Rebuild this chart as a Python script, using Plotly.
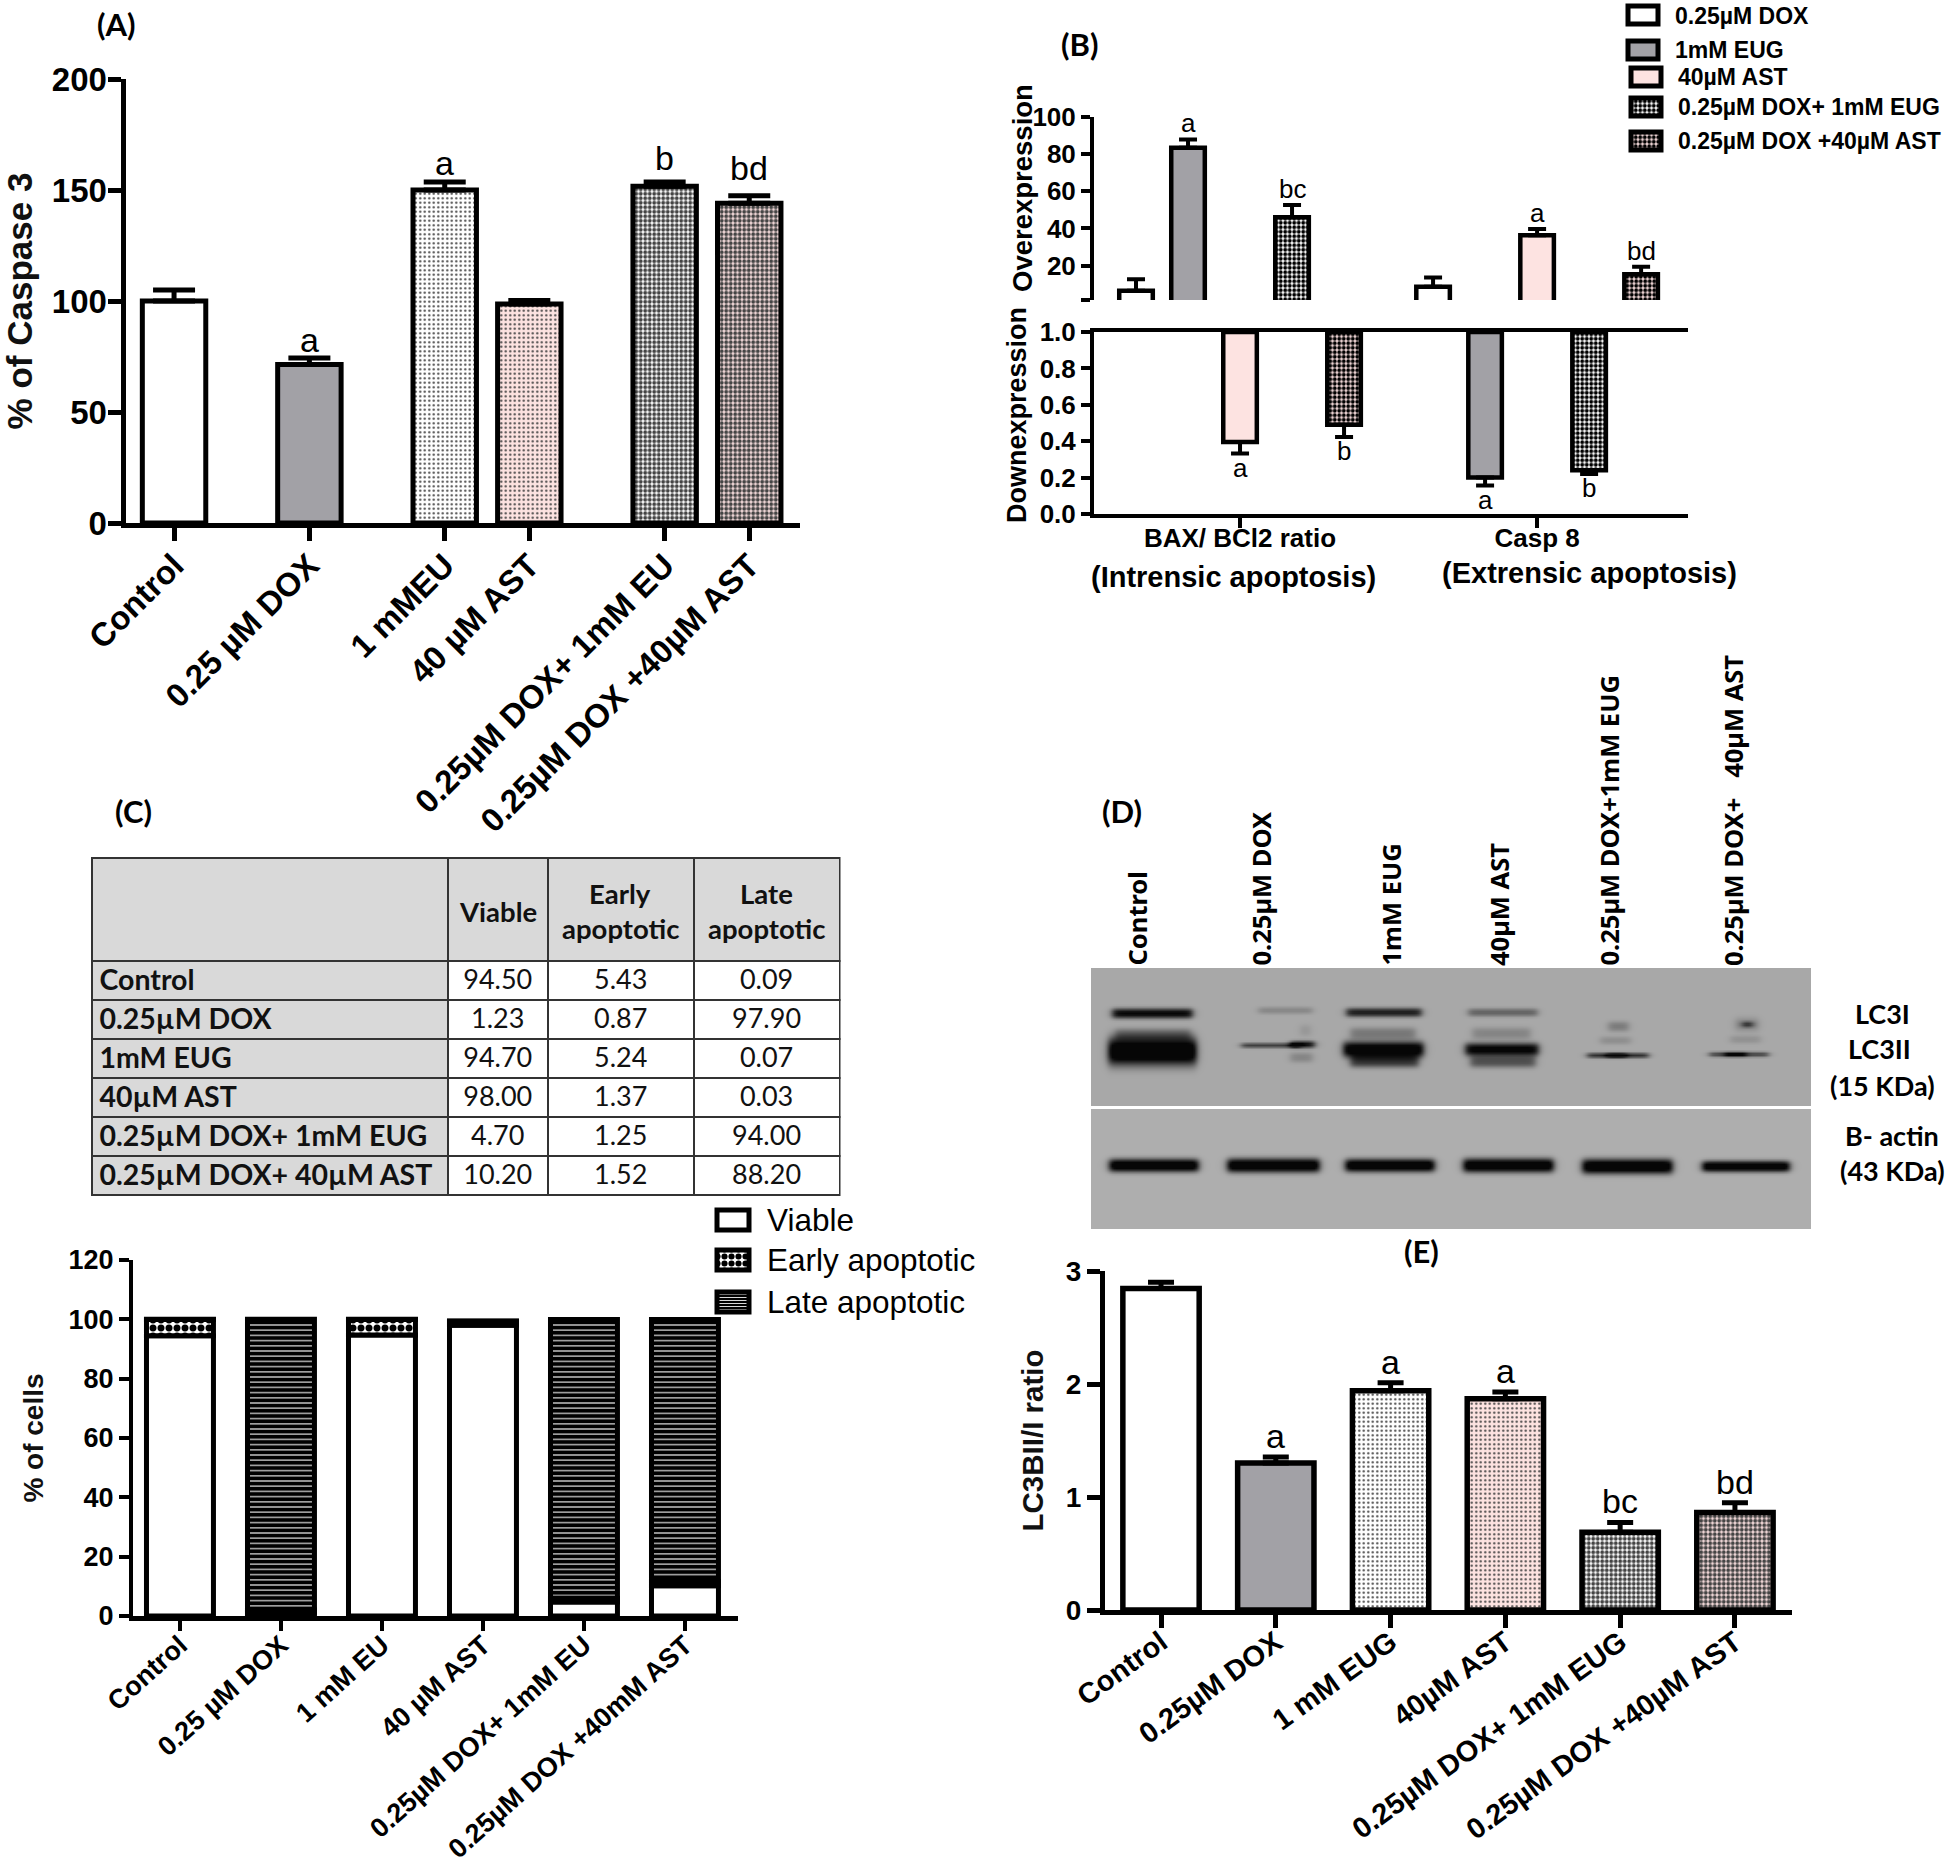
import numpy as np
import plotly.graph_objects as go

W, H = 1946, 1867
ARIAL = "Liberation Sans"
LATO = "Lato"
GREY = "#a2a1a6"
PINK = "#fde3e1"
MESH_BG = "#ffffff"

# ---------- Panel A ----------
a_labels = ["Control", "0.25 µM DOX", "1 mMEU", "40 µM AST", "0.25µM DOX+ 1mM EU", "0.25µM DOX +40µM AST"]
a_slots = [0, 8, 16, 21, 29, 34]
a_values = [100, 71.4, 150, 98.6, 151.7, 144]
a_errors = [5, 2.9, 3.6, 1.6, 1.9, 3.4]
a_letters = ["", "a", "a", "", "b", "bd"]
a_letter_lift = [0, -3, -2, 0, 3, 7]

# ---------- Panel B ----------
b_groups = ["BAX/ BCl2 ratio", "Casp 8"]
b_group_sub = ["(Intrensic apoptosis)", "(Extrensic apoptosis)"]
b_series = ["0.25µM DOX", "1mM EUG", "40µM AST", "0.25µM DOX+ 1mM EUG", "0.25µM DOX +40µM AST"]
over_values = [[6.5, 8.6], [83.5, None], [None, 36.3], [46, None], [None, 15.4]]
over_errors = [[6.2, 5.0], [4.4, 0], [0, 3.4], [6.6, 0], [0, 4.0]]
over_letters = [["", ""], ["a", ""], ["", "a"], ["bc", ""], ["", "bd"]]
down_values = [[None, None], [None, 0.20], [0.395, None], [None, 0.24], [0.49, None]]
down_errors = [[0, 0], [0, 0.044], [0.063, 0], [0, 0.02], [0.067, 0]]
down_letters = [["", ""], ["", "a"], ["a", ""], ["", "b"], ["b", ""]]

# ---------- Panel C ----------
c_labels = ["Control", "0.25 µM DOX", "1 mM EU", "40 µM AST", "0.25µM DOX+ 1mM EU", "0.25µM DOX +40mM AST"]
table_rows = ["Control", "0.25µM DOX", "1mM EUG", "40µM AST", "0.25µM DOX+ 1mM EUG", "0.25µM DOX+ 40µM AST"]
viable = [94.50, 1.23, 94.70, 98.00, 4.70, 10.20]
early = [5.43, 0.87, 5.24, 1.37, 1.25, 1.52]
late = [0.09, 97.90, 0.07, 0.03, 94.00, 88.20]

# ---------- Panel D (blot) ----------
d_lanes = ["Control", "0.25µM DOX", "1mM EUG", "40µM AST", "0.25µM DOX+1mM EUG", "0.25µM DOX+   40µM AST"]
# left, right, centre row, half-height, darkness (0-1)
lc3_bands = [
    (1112, 1192, 1013, 5.0, 1.0), (1108, 1196, 1051, 14.0, 1.25), (1115, 1190, 1034, 6.0, 0.35),
    (1258, 1312, 1010, 3.5, 0.2), (1241, 1300, 1045, 2.5, 0.65), (1290, 1314, 1044, 3.5, 0.95),
    (1290, 1312, 1057, 5.0, 0.22), (1300, 1310, 1030, 6.0, 0.12),
    (1346, 1421, 1012, 4.5, 0.85), (1343, 1423, 1049, 8.0, 1.15), (1350, 1418, 1061, 6.0, 0.7),
    (1350, 1415, 1033, 6.0, 0.3),
    (1468, 1537, 1012, 4.0, 0.42), (1465, 1538, 1049, 6.5, 1.05), (1470, 1535, 1061, 6.0, 0.55),
    (1472, 1530, 1033, 6.0, 0.22),
    (1587, 1648, 1055, 2.6, 0.75), (1606, 1626, 1055, 2.5, 0.6), (1608, 1628, 1026, 5.0, 0.28),
    (1600, 1630, 1040, 4.0, 0.16),
    (1709, 1768, 1054, 2.5, 0.6), (1724, 1746, 1054, 2.5, 0.55), (1742, 1752, 1024, 3.0, 0.6),
    (1735, 1758, 1024, 7.0, 0.2), (1730, 1760, 1039, 4.0, 0.14),
]
actin_bands = [
    (1109, 1198, 1165, 6.5, 1.2), (1227, 1319, 1165, 7.0, 1.2), (1345, 1434, 1165, 6.5, 1.2),
    (1463, 1553, 1165, 7.0, 1.2), (1582, 1672, 1166, 7.5, 1.2), (1702, 1789, 1166, 5.5, 1.2),
]
blot_bg = [162, 168]

# ---------- Panel E ----------
e_labels = ["Control", "0.25µM DOX", "1 mM EUG", "40µM AST", "0.25µM DOX+ 1mM EUG", "0.25µM DOX +40µM AST"]
e_values = [2.845, 1.30, 1.94, 1.87, 0.687, 0.863]
e_errors = [0.055, 0.055, 0.07, 0.06, 0.088, 0.087]
e_letters = ["", "a", "a", "a", "bc", "bd"]

bar_colors = ["#ffffff", GREY, "#ffffff", PINK, MESH_BG, "#f6dcdc"]
bar_shapes = ["", "", ".", ".", ".", "."]
bar_sizes = [4, 4, 4.5, 4.5, 4.5, 4.5]
bar_solid = [0.2, 0.2, 0.2, 0.2, 0.6, 0.6]


def dx(a, b):
    return [a / W, b / W]


def dy(t, b):
    return [1 - b / H, 1 - t / H]


fig = go.Figure()
anns = []


def text(x, y, s, size, bold=True, family=ARIAL, angle=0, xanchor="center", yanchor="middle", color="#000000"):
    anns.append(dict(x=x, y=y, xref="x6", yref="y6", text=s, showarrow=False, textangle=angle,
                     xanchor=xanchor, yanchor=yanchor,
                     font=dict(family=family, size=size, color=color, weight=700 if bold else 400)))


def letter(xa, ya, x, y, s, size, below=False, shift=0):
    if s:
        anns.append(dict(x=x, y=y, xref=xa, yref=ya, text=s, showarrow=False, xanchor="center",
                         yanchor="top" if below else "bottom", yshift=shift,
                         font=dict(family=ARIAL, size=size, color="#000000")))


def err(vals, minus=False, thick=5, half=20):
    zero = [0] * len(vals)
    return dict(type="data", symmetric=False, array=zero if minus else vals, arrayminus=vals if minus else zero,
                thickness=thick, width=half, color="#000000")


def bars_single(xs, ys, errs, xa, ya, width, lw, half, names):
    fig.add_trace(go.Bar(x=xs, y=ys, width=width, xaxis=xa, yaxis=ya, hovertext=names, showlegend=False,
                         marker=dict(color=bar_colors, line=dict(color="#000000", width=lw),
                                     pattern=dict(shape=bar_shapes, size=bar_sizes, solidity=bar_solid,
                                                  fgcolor="#000000", fgopacity=1)),
                         error_y=err(errs, half=half)))


# A
bars_single(a_slots, a_values, a_errors, "x", "y", 3.75, 5, 21, a_labels)
for x, v, e, s, lift in zip(a_slots, a_values, a_errors, a_letters, a_letter_lift):
    letter("x", "y", x, v + e, s, 34, shift=lift)

# E
e_pos = list(range(6))
bars_single(e_pos, e_values, e_errors, "x5", "y5", 0.665, 5.5, 13, e_labels)
for x, v, e, s in zip(e_pos, e_values, e_errors, e_letters):
    letter("x5", "y5", x, v + e, s, 34, shift=0)

# B
slot_w = 52 / 297
b_colors = ["#ffffff", GREY, PINK, "#ffffff", "#f6dcdc"]
b_shapes = ["", "", "", ".", "."]
for i, name in enumerate(b_series):
    off = (i - 2) * slot_w
    xs = [0 + off, 1 + off]
    mk = dict(color=b_colors[i], line=dict(color="#000000", width=4.5),
              pattern=dict(shape=b_shapes[i], size=4.5, solidity=0.6, fgcolor="#000000", fgopacity=1))
    fig.add_trace(go.Bar(x=xs, y=over_values[i], width=0.113, xaxis="x2", yaxis="y2", name=name, showlegend=False,
                         marker=mk, error_y=err(over_errors[i], thick=4, half=9)))
    fig.add_trace(go.Bar(x=xs, y=[None if v is None else v - 1 for v in down_values[i]], base=1, width=0.113,
                         xaxis="x3", yaxis="y3", name=name, showlegend=False,
                         marker=mk, error_y=err(down_errors[i], minus=True, thick=4, half=9)))
    for j in range(2):
        if over_values[i][j] is not None:
            letter("x2", "y2", xs[j], over_values[i][j] + over_errors[i][j], over_letters[i][j], 26, shift=-1)
        if down_values[i][j] is not None:
            letter("x3", "y3", xs[j], down_values[i][j] - down_errors[i][j], down_letters[i][j], 26, below=True, shift=3)

# C stacked from the table values
c_pos = list(range(6))
c_base_e = [v for v in viable]
c_base_l = [v + e for v, e in zip(viable, early)]
c_mark = dict(color="#000000", width=5)
fig.add_trace(go.Bar(x=c_pos, y=viable, width=0.663, xaxis="x4", yaxis="y4", name="Viable", showlegend=False,
                     marker=dict(color="#ffffff", line=c_mark)))
fig.add_trace(go.Bar(x=c_pos, y=early, base=c_base_e, width=0.663, xaxis="x4", yaxis="y4", name="Early apoptotic",
                     showlegend=False,
                     marker=dict(color="#ffffff", line=c_mark,
                                 pattern=dict(shape=".", size=8, solidity=0.6, fgcolor="#000000", fgopacity=1))))
fig.add_trace(go.Bar(x=c_pos, y=late, base=c_base_l, width=0.663, xaxis="x4", yaxis="y4", name="Late apoptotic",
                     showlegend=False,
                     marker=dict(color="#000000", line=c_mark,
                                 pattern=dict(shape="-", size=5.2, solidity=0.22, fgcolor="#f0f0f0", fgopacity=1))))

# Table of panel C
fig.add_trace(go.Table(
    domain=dict(x=dx(91.5, 840), y=dy(858, 1200)),
    columnwidth=[356.5, 100, 146, 146],
    header=dict(values=["", "", "", ""],
                height=103, fill_color="#d9d9d9", line=dict(color="#333333", width=2), align="center",
                font=dict(family=LATO, size=25, color="#111111")),
    cells=dict(values=[[r.replace(" ", "\u00a0") for r in table_rows],
                       ["%.2f" % v for v in viable], ["%.2f" % v for v in early], ["%.2f" % v for v in late]],
               height=39, align=["left", "center", "center", "center"],
               fill_color=[["#d9d9d9"] * 6, ["#ffffff"] * 6, ["#ffffff"] * 6, ["#ffffff"] * 6],
               line=dict(color="#333333", width=2),
               font=dict(family=LATO, size=[28.5, 27, 27, 27], color="#111111", weight=[700, 400, 400, 400]))))
for s, x, y in [("Viable", 498, 911), ("Early", 620, 893), ("apoptotic", 620, 928), ("Late", 766, 893),
                ("apoptotic", 766, 928)]:
    anns.append(dict(x=x, y=y, xref="x6", yref="y6", text=s, showarrow=False,
                     font=dict(family=LATO, size=27.5, color="#111111", weight=700)))


# Blot pictures
def blot(x0, x1, y0, y1, bg, bands, step=2):
    xs = np.arange(x0, x1 + step, step, dtype=float)
    ys = np.arange(y0, y1 + step, step, dtype=float)
    X, Y = np.meshgrid(xs, ys)
    dark = np.zeros_like(X)
    for l, r, c, hh, d in bands:
        edge = 4.0
        px_ = 0.5 * (np.tanh((X - l) / edge) - np.tanh((X - r) / edge))
        py_ = np.exp(-np.abs((Y - c) / hh) ** 2.6)
        dark += d * px_ * py_
    z = bg * (1 - np.clip(dark, 0, 1)) + 6
    fig.add_trace(go.Heatmap(z=z, x=xs, y=ys, xaxis="x6", yaxis="y6", zmin=0, zmax=255, zsmooth="best",
                             showscale=False, hoverinfo="skip",
                             colorscale=[[0, "#000000"], [1, "#ffffff"]]))


blot(1092, 1809, 969, 1104, blot_bg[0], lc3_bands)
blot(1092, 1809, 1110, 1228, blot_bg[1], actin_bands)


# Legend swatches
def swatch(name, left, right, top, bottom, marker):
    fig.add_trace(go.Bar(x=[(left + right) / 2], y=[bottom - top], base=[top], width=right - left, name=name,
                         xaxis="x6", yaxis="y6", showlegend=False, hoverinfo="name", marker=marker))


def leg(color, shape="", size=4.5, sol=0.6, fg="#000000", lw=5):
    return dict(color=color, line=dict(color="#000000", width=lw),
                pattern=dict(shape=shape, size=size, solidity=sol, fgcolor=fg, fgopacity=1))


b_leg_top = [6, 41, 68, 98, 132]
b_leg_text = [16, 50, 77, 107, 141]
b_leg_left = [1628, 1628, 1631, 1631, 1631]
for i, name in enumerate(b_series):
    swatch(name, b_leg_left[i], b_leg_left[i] + 30, b_leg_top[i], b_leg_top[i] + 18,
           leg(b_colors[i], b_shapes[i]))
    text(b_leg_left[i] + 45, b_leg_text[i], name, 23, xanchor="left")

c_leg_names = ["Viable", "Early apoptotic", "Late apoptotic"]
c_leg_top = [1210, 1250, 1292]
c_leg_text = [1220, 1260, 1302]
c_leg_styles = [leg("#ffffff"), leg("#ffffff", ".", 7, 0.6), leg("#000000", "-", 3, 0.3, "#f0f0f0")]
for n, t, ty, st in zip(c_leg_names, c_leg_top, c_leg_text, c_leg_styles):
    swatch(n, 717, 749, t, t + 20, st)
    text(765, ty, n, 31.5, bold=False, xanchor="left")

# Free texts
for s, x, y in [("(A)", 116, 24), ("(B)", 1079, 44), ("(C)", 133, 811), ("(D)", 1122, 811), ("(E)", 1421, 1251)]:
    text(x, y, s, 31, family=LATO)

text(1022, 188, "Overexpression", 27.5, angle=-90)
text(1017, 415, "Downexpression", 27, angle=-90)
text(1233, 577, b_group_sub[0], 29)
text(1589, 573, b_group_sub[1], 29)

lane_x = [1136.5, 1260.5, 1390.5, 1498.5, 1608.5, 1732.5]
for s, x in zip(d_lanes, lane_x):
    text(x, 968, s, 25.5, family="Noto Sans", angle=-90, yanchor="bottom")
for s, x, y in [("LC3I", 1882, 1013), ("LC3II", 1879, 1048), ("(15 KDa)", 1882, 1085),
                ("B- actin", 1892, 1135), ("(43 KDa)", 1892, 1170)]:
    text(x, y, s, 27, family=LATO)


def x_axis(dom, rng, vals, labels, size, lw=5, tl=13, tw=4.5, angle=-45, anchor="y", bold=True, standoff=2):
    return dict(domain=dx(*dom), range=rng, tickmode="array", tickvals=vals, ticktext=labels, ticks="outside",
                ticklen=tl, tickwidth=tw, tickcolor="#000000", showline=True, linewidth=lw, linecolor="#000000",
                showgrid=False, zeroline=False, tickangle=angle, anchor=anchor, ticklabelstandoff=standoff,
                automargin=False,
                tickfont=dict(family=ARIAL, size=size, color="#000000", weight=700 if bold else 400))


def y_axis(dom, rng, vals, labels, size, anchor, lw=5, tl=13, tw=4.5, title=None, tsize=30, standoff=10, tbold=True,
           label_gap=0):
    d = dict(domain=dy(*dom), range=rng, tickmode="array", tickvals=vals, ticktext=labels, ticks="outside",
             ticklen=tl, tickwidth=tw, tickcolor="#000000", showline=True, linewidth=lw, linecolor="#000000",
             showgrid=False, zeroline=False, anchor=anchor, automargin=False, ticklabelstandoff=label_gap,
             tickfont=dict(family=ARIAL, size=size, color="#000000", weight=700))
    if title:
        d["title"] = dict(text=title, standoff=standoff,
                          font=dict(family=ARIAL, size=tsize, color="#111111", weight=700 if tbold else 400))
    return d


xa_b = x_axis((1094, 1688), [-0.4916, 1.508], [0, 1], b_groups, 26, lw=4, tl=10, tw=4, angle=0, anchor="y3",
              standoff=-12)
xa_b["mirror"] = True

fig.update_layout(
    width=W, height=H, margin=dict(l=0, r=0, t=0, b=0), autosize=False,
    paper_bgcolor="#ffffff", plot_bgcolor="rgba(0,0,0,0)", barmode="overlay", showlegend=False,
    annotations=anns,
    xaxis=x_axis((125.5, 800), [-2.87, 37], a_slots, a_labels, 33, anchor="y", standoff=-8),
    yaxis=y_axis((79, 523), [0, 200], [0, 50, 100, 150, 200], ["0", "50", "100", "150", "200"], 33, "x",
                 title="% of Caspase 3", tsize=35, label_gap=-6, standoff=16),
    xaxis2=dict(domain=dx(1094, 1688), range=[-0.4916, 1.508], visible=False, anchor="y2"),
    yaxis2=y_axis((117, 300), [1.5, 100], [1.5, 20, 40, 60, 80, 100], ["", "20", "40", "60", "80", "100"], 26, "x2",
                  lw=4, tl=9, tw=4),
    xaxis3=xa_b,
    yaxis3=y_axis((332, 514), [0, 1], [0, 0.2, 0.4, 0.6, 0.8, 1], ["0.0", "0.2", "0.4", "0.6", "0.8", "1.0"], 26,
                  "x3", lw=4, tl=9, tw=4),
    xaxis4=x_axis((133, 738), [-0.465, 5.525], c_pos, c_labels, 27, lw=4.5, tl=10, tw=3.5, anchor="y4", angle=-42,
                  standoff=-12),
    yaxis4=y_axis((1260, 1616), [0, 120], [0, 20, 40, 60, 80, 100, 120], ["0", "20", "40", "60", "80", "100", "120"],
                  27, "x4", lw=4, tl=10, tw=3.5, title="% of cells", tsize=28, standoff=18),
    xaxis5=x_axis((1105, 1792), [-0.488, 5.497], e_pos, e_labels, 29, anchor="y5", angle=-36, standoff=-14),
    yaxis5=y_axis((1271, 1610), [0, 3], [0, 1, 2, 3], ["0", "1", "2", "3"], 28, "x5",
                  title="LC3BII/I ratio", tsize=29.5, tbold=True, standoff=15),
    xaxis6=dict(domain=[0, 1], range=[0, W], visible=False, anchor="y6", fixedrange=True),
    yaxis6=dict(domain=[0, 1], range=[H, 0], visible=False, anchor="x6", fixedrange=True),
)

fig.write_html("out.html", config={"displayModeBar": False},
               post_script="document.body.style.margin='0';document.documentElement.style.overflow='hidden';")
